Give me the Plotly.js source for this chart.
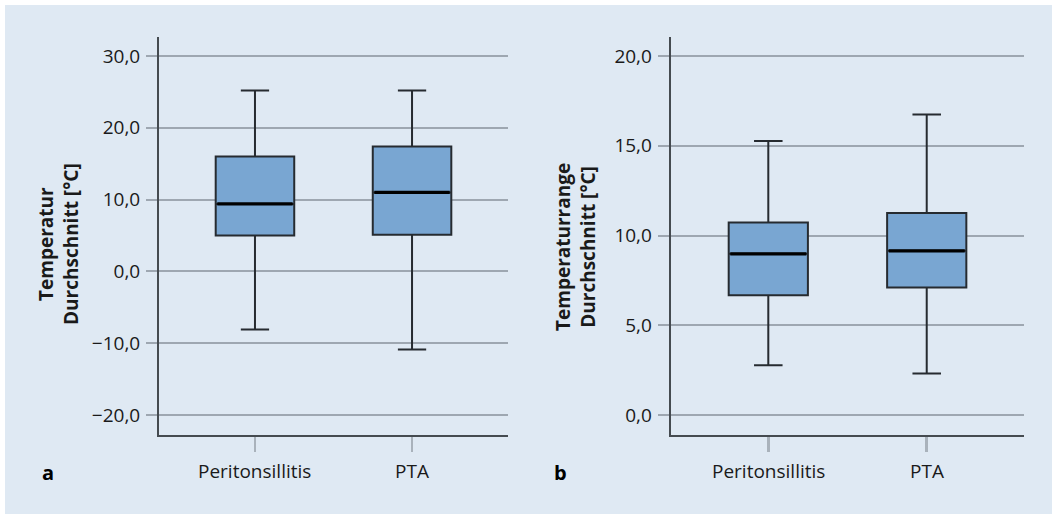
<!DOCTYPE html>
<html>
<head>
<meta charset="utf-8">
<script src="https://cdn.plot.ly/plotly-3.0.1.min.js"></script>
<style>
html,body{margin:0;padding:0;background:#ffffff;}
#chart{position:absolute;left:5px;top:5px;width:1047px;height:509px;}
</style>
</head>
<body>
<div id="chart"></div>
<script>
// Data
var categories = ["Peritonsillitis", "PTA"];
// Panel a: Temperatur Durchschnitt [°C]
var tempLower  = [-8.1, -10.9];
var tempQ1     = [5.0, 5.1];
var tempMedian = [9.4, 11.0];
var tempQ3     = [16.0, 17.4];
var tempUpper  = [25.2, 25.2];
var tempTicks  = [-20, -10, 0, 10, 20, 30];
// Panel b: Temperaturrange Durchschnitt [°C]
var rangeLower  = [2.77, 2.32];
var rangeQ1     = [6.68, 7.11];
var rangeMedian = [8.98, 9.15];
var rangeQ3     = [10.73, 11.26];
var rangeUpper  = [15.27, 16.74];
var rangeTicks  = [0, 5, 10, 15, 20];

var panelLabels = ["a", "b"];
var yTitles = ["Temperatur<br>Durchschnitt [°C]", "Temperaturrange<br>Durchschnitt [°C]"];

var FONT = "Open Sans, Noto Sans, sans-serif";
var boxFill = "#79a6d2";
var gridCol = "#9ea7b1";
var axisCol = "#454b50";
var boxWidth = 0.5;

function boxTrace(xa, ya, lo, q1, med, q3, up) {
  return {
    type: "box", xaxis: xa, yaxis: ya,
    x: categories, lowerfence: lo, q1: q1, median: med, q3: q3, upperfence: up,
    width: boxWidth, whiskerwidth: 0.36,
    fillcolor: boxFill,
    line: {color: "#262b30", width: 2},
    hoverinfo: "skip", showlegend: false
  };
}

var data = [
  boxTrace("x", "y", tempLower, tempQ1, tempMedian, tempQ3, tempUpper),
  boxTrace("x2", "y2", rangeLower, rangeQ1, rangeMedian, rangeQ3, rangeUpper)
];

var shapes = [];
function medianShapes(xref, yref, med) {
  med.forEach(function (m, i) {
    shapes.push({type: "line", xref: xref, yref: yref,
      x0: i - boxWidth / 2 + 0.01, x1: i + boxWidth / 2 - 0.01, y0: m, y1: m,
      line: {color: "#000000", width: 3.2}, layer: "above"});
  });
}
medianShapes("x", "y", tempMedian);
medianShapes("x2", "y2", rangeMedian);

function yAxis(range, ticks) {
  return {
    domain: [0.15521, 0.93713], range: range,
    tickvals: ticks, tickformat: ".1f",
    showgrid: true, gridcolor: gridCol, gridwidth: 2,
    zeroline: false,
    showline: true, linecolor: axisCol, linewidth: 2,
    ticks: "outside", ticklen: 11, tickwidth: 2, tickcolor: gridCol,
    ticklabelstandoff: 2,
    tickfont: {family: FONT, size: 19, color: "#1a1a1a"},
    fixedrange: true
  };
}
function xAxis(domain, range) {
  return {
    domain: domain, range: range, type: "category",
    showline: true, linecolor: axisCol, linewidth: 2,
    showgrid: false, zeroline: false,
    ticks: "outside", ticklen: 15, tickwidth: 2.5, tickcolor: "#a9b2bb",
    showticklabels: false,
    fixedrange: true
  };
}

var annotations = [];
function catLabels(xref) {
  categories.forEach(function (c, i) {
    annotations.push({xref: xref, yref: "paper", x: i, y: 1 - (471 - 5) / 509,
      text: c, showarrow: false, xanchor: "center", yanchor: "middle",
      font: {family: FONT, size: 19, color: "#1a1a1a"}});
  });
}
catLabels("x");
catLabels("x2");
annotations.push({xref: "paper", yref: "paper", x: (58 - 5) / 1047, y: 1 - (244 - 5) / 509,
  text: yTitles[0], textangle: -90, showarrow: false, xanchor: "center", yanchor: "middle",
  font: {family: FONT, size: 19, color: "#1a1a1a", weight: "bold"}});
annotations.push({xref: "paper", yref: "paper", x: (576 - 5) / 1047, y: 1 - (247 - 5) / 509,
  text: yTitles[1], textangle: -90, showarrow: false, xanchor: "center", yanchor: "middle",
  font: {family: FONT, size: 19, color: "#1a1a1a", weight: "bold"}});
annotations.push({xref: "paper", yref: "paper", x: (47.5 - 5) / 1047, y: 1 - (472 - 5) / 509,
  text: panelLabels[0], showarrow: false, xanchor: "center", yanchor: "middle",
  font: {family: FONT, size: 20, color: "#000000", weight: "bold"}});
annotations.push({xref: "paper", yref: "paper", x: (560 - 5) / 1047, y: 1 - (472 - 5) / 509,
  text: panelLabels[1], showarrow: false, xanchor: "center", yanchor: "middle",
  font: {family: FONT, size: 20, color: "#000000", weight: "bold"}});

var layout = {
  width: 1047, height: 509,
  margin: {l: 0, r: 0, t: 0, b: 0},
  paper_bgcolor: "#dfe9f3", plot_bgcolor: "rgba(0,0,0,0)",
  separators: ", ",
  showlegend: false,
  xaxis: Object.assign(xAxis([0.14709, 0.48042], [-0.611, 1.611]), {anchor: "y"}),
  yaxis: Object.assign(yAxis([-22.8, 32.65], tempTicks), {anchor: "x"}),
  xaxis2: Object.assign(xAxis([0.63582, 0.97326], [-0.616, 1.614]), {anchor: "y2"}),
  yaxis2: Object.assign(yAxis([-1.11, 21.06], rangeTicks), {anchor: "x2"}),
  shapes: shapes,
  annotations: annotations
};

Plotly.newPlot("chart", data, layout, {displayModeBar: false, staticPlot: true});
</script>
</body>
</html>
